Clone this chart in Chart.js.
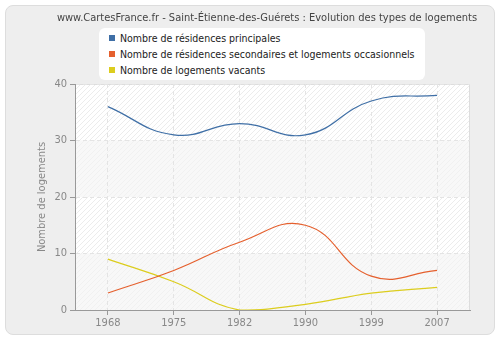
<!DOCTYPE html>
<html lang="fr">
<head>
<meta charset="UTF-8">
<title>Evolution des types de logements</title>
<script src="https://cdn.jsdelivr.net/npm/chart.js"></script>
<style>
    body { margin: 0; background: #ffffff; font-family: "DejaVu Sans Condensed", "DejaVu Sans", sans-serif; }
    .frame {
        position: absolute; left: 5px; top: 5px; width: 488px; height: 328px;
        background: #eeeeee; border: 1px solid #dddddd; border-radius: 8px;
    }
    .wrap { position: absolute; left: 0; top: 0; width: 500px; height: 340px; }
    .title {
        position: absolute; left: 0; width: 534px; top: 11px; text-align: center;
        font-size: 11px; color: #444444; white-space: nowrap;
    }
    .legend {
        position: absolute; left: 99px; top: 28px; width: 326px; height: 52px;
        background: #ffffff; border-radius: 6px; box-sizing: border-box; padding: 2px 0 0 10px;
        font-size: 10.5px; color: #222222;
    }
    .legend div { height: 16px; line-height: 16px; white-space: nowrap; }
    .legend span { display: inline-block; width: 6px; height: 6px; margin-right: 5px; vertical-align: 1px; }
</style>
</head>
<body>
<div class="frame"></div>
<div class="wrap"><canvas id="chart" width="500" height="340"></canvas></div>
<div class="title">www.CartesFrance.fr - Saint-Étienne-des-Guérets : Evolution des types de logements</div>
<div class="legend" id="legend"></div>
<script>
    // data
    const years = ['1968', '1975', '1982', '1990', '1999', '2007'];
    const principales = [36, 31, 33, 31, 37, 38];
    const secondaires = [3, 7, 12, 15, 6, 7];
    const vacants = [9, 5, 0, 1, 3, 4];

    const seriesNames = [
        'Nombre de résidences principales',
        'Nombre de résidences secondaires et logements occasionnels',
        'Nombre de logements vacants'
    ];
    const seriesColors = ['#3f6fa6', '#e5602e', '#dccd1e'];
    const fontFamily = '"DejaVu Sans Condensed", "DejaVu Sans", sans-serif';

    // html legend
    const legend = document.getElementById('legend');
    seriesNames.forEach((name, i) => {
        const row = document.createElement('div');
        row.innerHTML = '<span style="background:' + seriesColors[i] + '"></span>' + name;
        legend.appendChild(row);
    });

    function hatch(bg, line) {
        const c = document.createElement('canvas');
        c.width = 5; c.height = 5;
        const g = c.getContext('2d');
        g.fillStyle = bg;
        g.fillRect(0, 0, 5, 5);
        g.strokeStyle = line;
        g.lineWidth = 1;
        g.beginPath();
        g.moveTo(-1, 6); g.lineTo(6, -1);
        g.moveTo(-1, 1); g.lineTo(1, -1);
        g.moveTo(4, 6); g.lineTo(6, 4);
        g.stroke();
        return c;
    }

    // striped + hatched plot background
    const plotBackground = {
        id: 'plotBackground',
        beforeDraw(chart) {
            const ctx = chart.ctx;
            const area = chart.chartArea;
            const y = chart.scales.y;
            const strong = ctx.createPattern(hatch('#ffffff', '#ececec'), 'repeat');
            const light = ctx.createPattern(hatch('#f8f8f8', '#f1f1f1'), 'repeat');
            ctx.save();
            for (let v = 0; v < 40; v += 10) {
                const top = y.getPixelForValue(v + 10);
                const bottom = y.getPixelForValue(v);
                ctx.fillStyle = (v / 10) % 2 === 1 ? strong : light;
                ctx.fillRect(area.left, top, area.right - area.left, bottom - top);
            }
            ctx.strokeStyle = '#dddddd';
            ctx.lineWidth = 1;
            ctx.beginPath();
            ctx.moveTo(area.left, area.top + 0.5);
            ctx.lineTo(area.right - 0.5, area.top + 0.5);
            ctx.lineTo(area.right - 0.5, area.bottom);
            ctx.stroke();
            ctx.restore();
        }
    };

    const makeSet = (label, data, color) => ({
        label: label,
        data: data,
        borderColor: color,
        backgroundColor: color,
        borderWidth: 1.2,
        pointRadius: 0,
        tension: 0.45,
        fill: false
    });

    new Chart(document.getElementById('chart'), {
        type: 'line',
        data: {
            labels: years,
            datasets: [
                makeSet(seriesNames[0], principales, seriesColors[0]),
                makeSet(seriesNames[1], secondaires, seriesColors[1]),
                makeSet(seriesNames[2], vacants, seriesColors[2])
            ]
        },
        options: {
            responsive: false,
            animation: false,
            layout: { padding: { top: 84, right: 30, left: 36, bottom: 0 } },
            plugins: {
                legend: { display: false },
                title: { display: false },
                tooltip: { enabled: false }
            },
            scales: {
                x: {
                    offset: true,
                    grid: { offset: false, color: '#e4e4e4', tickColor: '#999999', tickLength: 5 },
                    border: { color: '#999999', dash: [4, 3] },
                    ticks: { color: '#888888', font: { family: fontFamily, size: 11 }, padding: 2 },
                    afterFit(scale) { scale.height = 30; }
                },
                y: {
                    min: 0,
                    max: 40,
                    grid: { color: '#e4e4e4', tickColor: '#999999', tickLength: 5 },
                    border: { color: '#999999', dash: [4, 3] },
                    ticks: { stepSize: 10, color: '#888888', font: { family: fontFamily, size: 11 }, padding: 3 },
                    title: {
                        display: true,
                        text: 'Nombre de logements',
                        color: '#888888',
                        font: { family: fontFamily, size: 11 },
                        padding: { top: 0, bottom: 0 }
                    },
                    afterFit(scale) { scale.width = 39; }
                }
            }
        },
        plugins: [plotBackground]
    });
</script>
</body>
</html>
